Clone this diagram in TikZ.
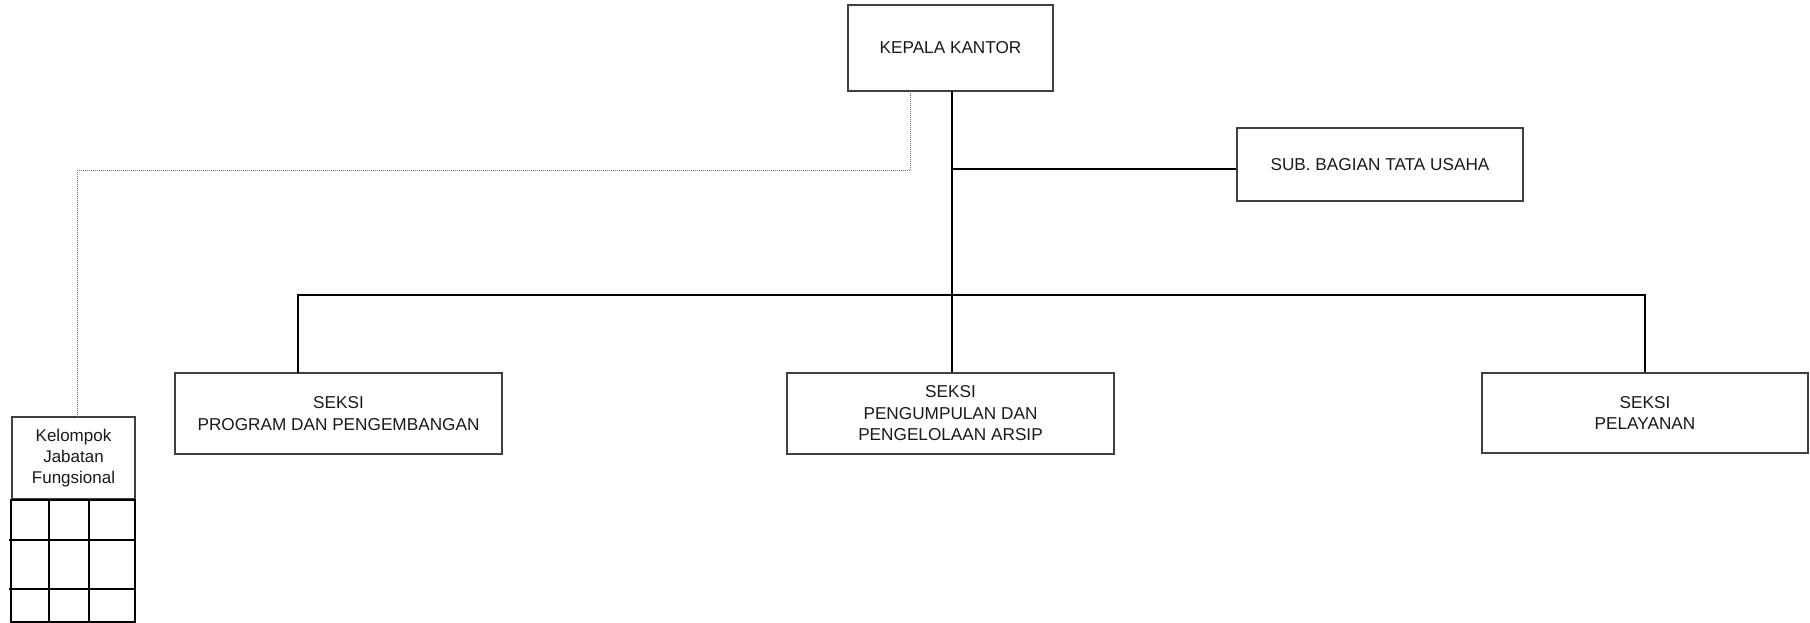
\documentclass[tikz,border=0pt]{standalone}
\usepackage{fontspec}
\setmainfont{Liberation Sans}
\begin{document}
\begin{tikzpicture}[x=1pt,y=-1pt,
  unitbox/.style={draw=black!75, line width=1.2pt, rectangle, inner sep=0pt,
    align=center, text=black!90, font=\fontsize{17.2}{21.5}\selectfont},
  link/.style={line width=2pt, black},
  advisory/.style={draw=black!55, line width=1pt, dash pattern=on 1pt off 1pt},
  gridline/.style={line width=2pt, black}]
  \useasboundingbox (0,0) rectangle (1810,623);

  % head and staff units
  \node[unitbox, minimum width=205pt, minimum height=86pt] (kepala) at (950.5,48) {KEPALA KANTOR};
  \node[unitbox, minimum width=286pt, minimum height=73pt] (tu) at (1380,164.5) {SUB. BAGIAN TATA USAHA};

  % sections
  \node[unitbox, minimum width=327pt, minimum height=81pt] (prog) at (338.5,413.5) {SEKSI\\PROGRAM DAN PENGEMBANGAN};
  \node[unitbox, minimum width=327pt, minimum height=81pt] (arsip) at (950.5,413.5) {SEKSI\\PENGUMPULAN DAN\\PENGELOLAAN ARSIP};
  \node[unitbox, minimum width=326pt, minimum height=80pt] (layan) at (1645,413) {SEKSI\\PELAYANAN};

  % functional group
  \node[unitbox, minimum width=123pt, minimum height=82pt, font=\fontsize{17}{21}\selectfont] (jf) at (73.5,458) {Kelompok\\Jabatan\\Fungsional};

  % member grid below the functional group
  \coordinate (g1) at (135,622);
  \draw[gridline] (jf.south west) rectangle (g1);
  \draw[gridline] (49,499) -- (49,622) (89,499) -- (89,622);
  \draw[gridline] (9,540) -- (135,540) (9,589) -- (135,589);

  % line of command
  \coordinate (trunk) at (952,91);
  \coordinate (tujoin) at (952,169);
  \coordinate (bus) at (952,295);
  \draw[link] (trunk) -- (bus);
  \draw[link] (tujoin) -- (tujoin -| tu.west);
  \coordinate (progtop) at (298,373);
  \draw[link] (progtop) -- (298,295) -- (bus -| layan.north) -- (layan.north);
  \draw[link] (bus) -- (bus |- arsip.north);

  % coordination line to the functional group
  \coordinate (dtop) at (910,91);
  \draw[advisory] (dtop) -- (910,171) -- (77,171) -- (77,417);
\end{tikzpicture}
\end{document}
